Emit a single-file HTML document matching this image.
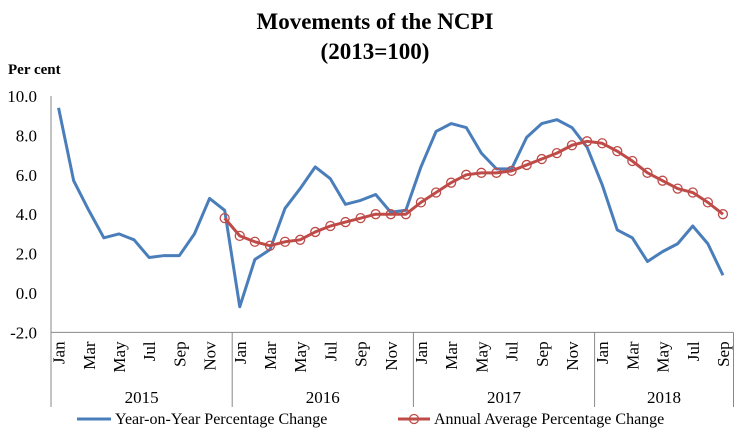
<!DOCTYPE html>
<html><head><meta charset="utf-8"><style>
body{margin:0;background:#fff;}
svg{display:block;font-family:"Liberation Serif",serif;}
</style></head><body>
<svg id="chart" width="750" height="440" viewBox="0 0 750 440" xmlns="http://www.w3.org/2000/svg">
<text x="375" y="29" text-anchor="middle" font-size="23" font-weight="bold">Movements of the NCPI</text>
<text x="375" y="59" text-anchor="middle" font-size="23" font-weight="bold">(2013=100)</text>
<text x="8" y="74" font-size="15" font-weight="bold">Per cent</text>
<g id="axes"></g>
<g id="series"></g>
<g>
<line x1="77" y1="419" x2="111" y2="419" stroke="#4a7ebb" stroke-width="3"/>
<text x="115" y="424" font-size="16">Year-on-Year Percentage Change</text>
<line x1="398" y1="419" x2="430" y2="419" stroke="#be4b48" stroke-width="3"/>
<circle cx="414" cy="419" r="4.5" fill="none" stroke="#be4b48" stroke-width="1.3"/>
<text x="434" y="424" font-size="16">Annual Average Percentage Change</text>
</g>
</svg>
<script>
const years = ["2015","2016","2017","2018"];
const months = ["Jan","Feb","Mar","Apr","May","Jun","Jul","Aug","Sep","Oct","Nov","Dec"];
const yTicks = [-2,0,2,4,6,8,10];
const yoyValues = [9.4,5.7,4.2,2.8,3.0,2.7,1.8,1.9,1.9,3.0,4.8,4.2,
 -0.7,1.7,2.2,4.3,5.3,6.4,5.8,4.5,4.7,5.0,4.1,4.2,
 6.4,8.2,8.6,8.4,7.1,6.3,6.3,7.9,8.6,8.8,8.4,7.4,
 5.5,3.2,2.8,1.6,2.1,2.5,3.4,2.5,0.9];
const annualStart = 11;
const annualValues = [3.8,2.9,2.6,2.4,2.6,2.7,3.1,3.4,3.6,3.8,4.0,4.0,4.0,
 4.6,5.1,5.6,6.0,6.1,6.1,6.2,6.5,6.8,7.1,7.5,7.7,
 7.6,7.2,6.7,6.1,5.7,5.3,5.1,4.6,4.0];

const NS="http://www.w3.org/2000/svg";
const X0=51, STEP=15.1, Y0=293, UNIT=19.7;
const xs=i=>X0+STEP/2+i*STEP;
const ys=v=>Y0-v*UNIT;
function el(tag,attrs,parent){const e=document.createElementNS(NS,tag);for(const k in attrs)e.setAttribute(k,attrs[k]);parent.appendChild(e);return e;}
const axes=document.getElementById('axes'), series=document.getElementById('series');
const n=yoyValues.length;
const xEnd=X0+n*STEP+3;
const yAxis=el('line',{x1:X0,y1:ys(10),x2:X0,y2:ys(-2),stroke:'#888','stroke-width':1},axes);


const xAxis=el('line',{x1:X0,y1:ys(-2),x2:xEnd,y2:ys(-2),stroke:'#888','stroke-width':1},axes);


yTicks.forEach(t=>{
 const tx=el('text',{x:37,y:ys(t)+6,'text-anchor':'end','font-size':17},axes);
 tx.textContent=t.toFixed(1);
 
 
});
for(let i=0;i<n;i++){
 if(i%2===0){
  const m=months[i%12];
  const tx=el('text',{transform:`translate(${xs(i)+6},${ys(-2)+9}) rotate(-90)`,'text-anchor':'end','font-size':17},axes);
  tx.textContent=m;
  
  
 }
}
years.forEach((y,k)=>{
 const xa=X0+k*12*STEP;
 const xb=Math.min(X0+(k+1)*12*STEP,xEnd);
 const d=el('line',{x1:xa,y1:ys(-2),x2:xa,y2:407,stroke:'#888','stroke-width':1},axes);
 
 
 const tx=el('text',{x:(xa+xb)/2,y:403,'text-anchor':'middle','font-size':17},axes);
 tx.textContent=y;
 
 
});
const endDiv=el('line',{x1:xEnd,y1:ys(-2),x2:xEnd,y2:407,stroke:'#888','stroke-width':1},axes);



const yoy=el('polyline',{points:yoyValues.map((v,i)=>xs(i)+','+ys(v)).join(' '),fill:'none',stroke:'#4a7ebb','stroke-width':3,'stroke-linejoin':'round'},series);


const ann=el('polyline',{points:annualValues.map((v,i)=>xs(i+annualStart)+','+ys(v)).join(' '),fill:'none',stroke:'#be4b48','stroke-width':3,'stroke-linejoin':'round'},series);


annualValues.forEach((v,i)=>{
 const c=el('circle',{cx:xs(i+annualStart),cy:ys(v),r:4.5,fill:'none',stroke:'#be4b48','stroke-width':1.3},series);
 
 
});
</script>
</body></html>
